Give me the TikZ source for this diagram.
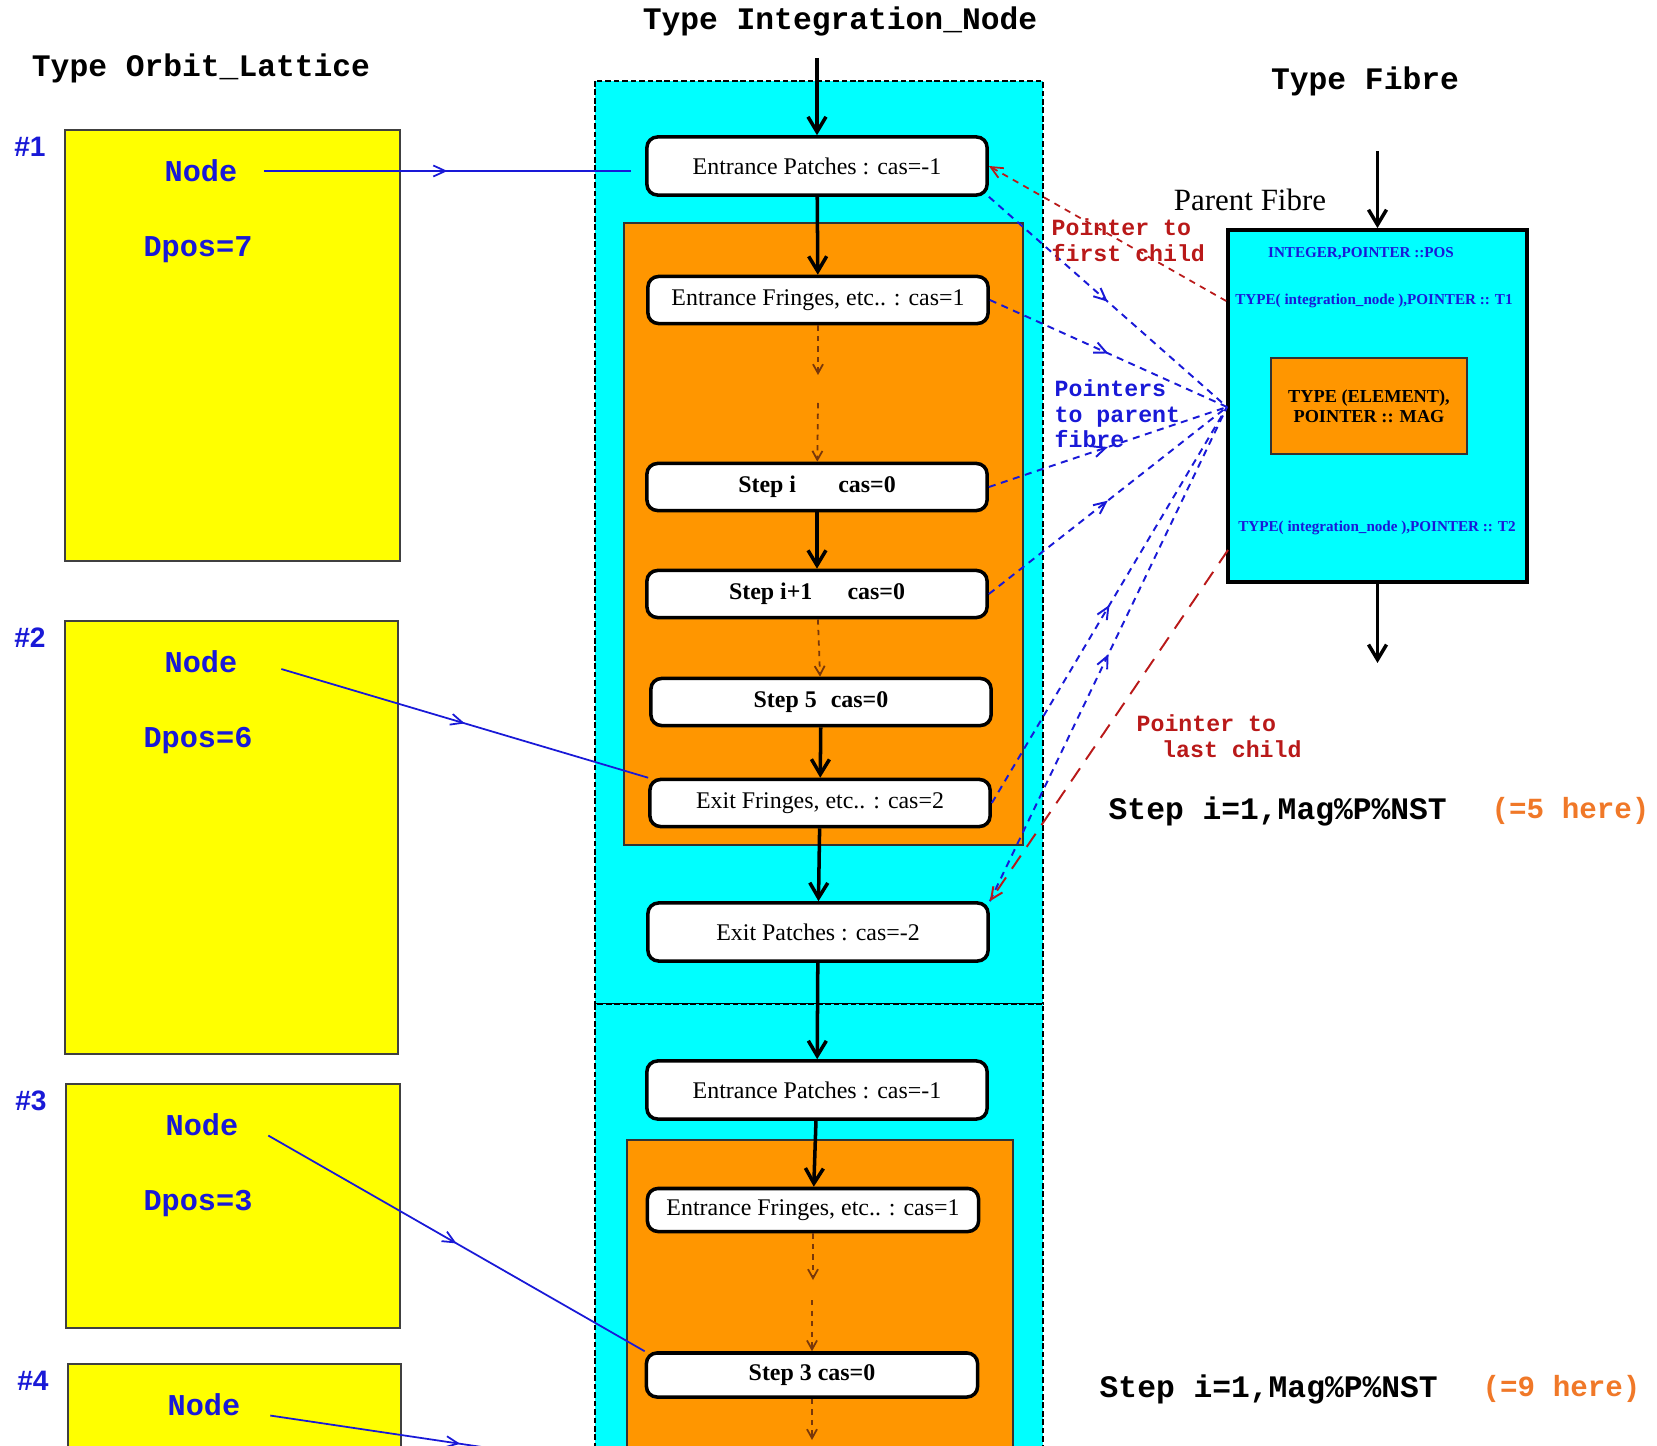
\documentclass[tikz,border=0pt]{standalone}
\usepackage{fontspec}
\setmainfont{Liberation Serif}
\setmonofont{Liberation Mono}
\newfontfamily\arialfont{Liberation Sans}
\usetikzlibrary{arrows.meta,decorations.markings}

\definecolor{intcyan}{RGB}{0,255,255}
\definecolor{steporange}{RGB}{255,150,0}
\definecolor{latyellow}{RGB}{255,255,0}
\definecolor{ptrblue}{RGB}{25,25,215}
\definecolor{ptrred}{RGB}{185,25,25}
\definecolor{herecol}{RGB}{240,120,40}
\definecolor{stepbrown}{RGB}{120,55,10}

\tikzset{
  titletxt/.style={font=\ttfamily\bfseries\fontsize{8.9}{10}\selectfont},
  lattxt/.style={text=ptrblue, font=\ttfamily\bfseries\fontsize{8.6}{10}\selectfont},
  latnum/.style={text=ptrblue, font=\arialfont\bfseries\fontsize{8}{9}\selectfont},
  latbox/.style={draw=black!75, line width=0.5pt, fill=latyellow},
  intblock/.style={draw=black, line width=0.6pt, dash pattern=on 1.6pt off 0.8pt, fill=intcyan},
  stepblock/.style={draw=black!80, line width=0.45pt, fill=steporange},
  casbox/.style={draw, line width=1pt, rounded corners=3pt, fill=white,
    minimum width=3.4cm, minimum height=0.47cm, inner sep=0pt,
    font=\fontsize{6.8}{8}\selectfont},
  patchbox/.style={casbox, minimum height=0.58cm},
  stepcas/.style={casbox, font=\bfseries\fontsize{6.8}{8}\selectfont},
  fibrebox/.style={draw, line width=1pt, fill=intcyan, minimum width=2.99cm, minimum height=3.52cm},
  magbox/.style={draw=black!80, line width=0.45pt, fill=steporange, minimum width=1.96cm,
    minimum height=0.96cm, align=center, font=\bfseries\fontsize{5.2}{5.7}\selectfont},
  fibtxt/.style={text=ptrblue, inner sep=0pt, font=\bfseries\fontsize{4.3}{5}\selectfont},
  ptrlbl/.style={anchor=west, align=left, inner sep=0pt, font=\ttfamily\bfseries\fontsize{6.6}{7.3}\selectfont},
  nsttxt/.style={anchor=west, inner sep=0pt, font=\ttfamily\bfseries\fontsize{8.9}{10}\selectfont},
  midtip/.style={postaction={decorate}, decoration={markings,
    mark=at position 0.5 with {\arrow{Straight Barb[length=1.2mm,width=1.1mm]}}}},
  solidflow/.style={draw, line width=1pt, -{Straight Barb[length=1.5mm,width=1.8mm]}},
  dashflow/.style={draw=stepbrown, line width=0.5pt, dash pattern=on 1.5pt off 1.5pt,
    -{Straight Barb[length=0.9mm,width=1mm]}},
  latptr/.style={color=ptrblue, line width=0.5pt, midtip},
  parentptr/.style={color=ptrblue, line width=0.55pt, dash pattern=on 2pt off 1.6pt, midtip},
  firstptr/.style={color=ptrred, line width=0.5pt, dash pattern=on 1.8pt off 1.6pt,
    -{Straight Barb[length=1.2mm,width=1.1mm]}},
  lastptr/.style={color=ptrred, line width=0.55pt, dash pattern=on 4.5pt off 3pt,
    -{Straight Barb[length=1.2mm,width=1.1mm]}}
}

\begin{document}
\begin{tikzpicture}[x=0.01cm,y=-0.01cm]
  \useasboundingbox (0,0) rectangle (1657,1446);
  \clip (0,0) rectangle (1657,1446);

  % titles
  \node[titletxt] (ttlint) at (840,21) {Type Integration\_Node};
  \node[titletxt] (ttlorb) at (201,68) {Type Orbit\_Lattice};
  \node[titletxt] (ttlfib) at (1365,81) {Type Fibre};

  % orbit lattice
  \foreach \k/\xl/\yt/\xr/\yb in {1/65/130/400/561, 2/65/621/398/1054,
                                  3/66/1084/400/1328, 4/68/1364/401/1480}
   {
    \draw[latbox] (\xl,\yt) rectangle (\xr,\yb);
    \node[latnum] (num\k) at (\xl-35,\yt+17) {\#\k};
    \node[lattxt] (node\k) at (\xl+136,\yt+41) {Node};
   }
  \foreach \k/\yt/\v in {1/130/7, 2/621/6, 3/1084/3}
    \node[lattxt] (dpos\k) at (198,\yt+120) {Dpos=\v};

  % integration nodes
  \draw[intblock] (595,81) rectangle (1043,1004);
  \draw[intblock] (595,1004) rectangle (1043,1480);
  \draw[stepblock] (624,223) rectangle (1023,845);
  \draw[stepblock] (627,1140) rectangle (1013,1480);

  \node[patchbox] (ep1) at (817,166) {Entrance Patches : cas=-1};
  \node[casbox] (ef1) at (818,300) {Entrance Fringes, etc.. : cas=1};
  \node[stepcas] (st1) at (817,487) {Step i\hspace{12pt}cas=0};
  \node[stepcas] (st2) at (817,594) {Step i+1\hspace{10pt}cas=0};
  \node[stepcas] (st5) at (821,702) {Step 5\hspace{4pt}cas=0};
  \node[casbox] (xf1) at (820,803) {Exit Fringes, etc.. : cas=2};
  \node[patchbox] (xp1) at (818,932) {Exit Patches : cas=-2};
  \node[patchbox] (ep2) at (817,1090) {Entrance Patches : cas=-1};
  \node[casbox,minimum width=3.31cm,minimum height=0.43cm] (ef2) at (813,1210) {Entrance Fringes, etc.. : cas=1};
  \node[stepcas,minimum width=3.31cm,minimum height=0.44cm] (st3) at (812,1375) {Step 3 cas=0};

  \coordinate (intop) at (817,58);
  \coordinate (gap1a) at (818,375);
  \coordinate (gap1b) at (818,403);
  \coordinate (gap2a) at (813,1280);
  \coordinate (gap2b) at (812,1300);
  \coordinate (st3out) at (812,1440);

  \draw[solidflow] (intop) -- (ep1);
  \draw[solidflow] (ep1) -- (ef1);
  \draw[dashflow] (ef1) -- (gap1a);
  \draw[dashflow] (gap1b) -- (st1);
  \draw[solidflow] (st1) -- (st2);
  \draw[dashflow] (st2) -- (st5);
  \draw[solidflow] (st5) -- (xf1);
  \draw[solidflow] (xf1) -- (xp1);
  \draw[solidflow] (xp1) -- (ep2);
  \draw[solidflow] (ep2) -- (ef2);
  \draw[dashflow] (ef2) -- (gap2a);
  \draw[dashflow] (gap2b) -- (st3);
  \draw[dashflow] (st3) -- (st3out);

  % lattice -> integration nodes
  \coordinate (node4out) at (650,1472);
  \draw[latptr] ([xshift=4pt]node1.east) -- ([xshift=-4pt]node1 -| ep1.west);
  \draw[latptr] ([xshift=9pt,yshift=-2pt]node2.east) -- (xf1.north west);
  \draw[latptr] ([xshift=5pt,yshift=-3pt]node3.east) -- (st3.north west);
  \draw[latptr] ([xshift=5pt,yshift=-3pt]node4.east) -- (node4out);

  % fibre
  \node[fibrebox] (fibre) at (1377.5,406) {};
  \node[magbox] (mag) at (1369,406) {TYPE (ELEMENT),\\POINTER :: MAG};
  \node[fibtxt] (pos) at (1361,254) {INTEGER,POINTER ::POS};
  \node[fibtxt] (t1) at (1374,301) {TYPE( integration\_node ),POINTER :: T1};
  \node[fibtxt] (t2) at (1377,528) {TYPE( integration\_node ),POINTER :: T2};
  \node[font=\fontsize{8.8}{10}\selectfont] (parlbl) at (1250,200) {Parent Fibre};
  \coordinate (fibin) at (1377.5,151);
  \coordinate (fibout) at (1377.5,663);
  \draw[solidflow] (fibin) -- (fibre);
  \draw[solidflow] (fibre) -- (fibout);

  % pointers
  \coordinate (fibp) at (1227,407);
  \coordinate (lastc) at (1228,550);
  \foreach \src in {ep1.south east, ef1.east, st1.east, st2.east, xf1.east, xp1.north east}
    \draw[parentptr] (\src) -- (fibp);
  \draw[firstptr] (fibre.west |- t1) -- (ep1.east);
  \draw[lastptr] (lastc) -- (xp1.north east);

  \node[ptrlbl,text=ptrred] (firstlbl) at (1051,240) {Pointer to\\first child};
  \node[ptrlbl,text=ptrblue] (parlbl2) at (1054,414) {Pointers\\to parent\\fibre};
  \node[ptrlbl,text=ptrred] (lastlbl) at (1136,736) {Pointer to\\\hspace*{1.1em}last child};

  \node[nsttxt] (nst1) at (1108,811) {Step i=1,Mag\%P\%NST};
  \node[nsttxt,text=herecol,font=\ttfamily\bfseries\fontsize{8.3}{10}\selectfont] (here1) at (1491,811) {(=5 here)};
  \node[nsttxt] (nst2) at (1099,1389) {Step i=1,Mag\%P\%NST};
  \node[nsttxt,text=herecol,font=\ttfamily\bfseries\fontsize{8.3}{10}\selectfont] (here2) at (1482,1389) {(=9 here)};
\end{tikzpicture}
\end{document}
